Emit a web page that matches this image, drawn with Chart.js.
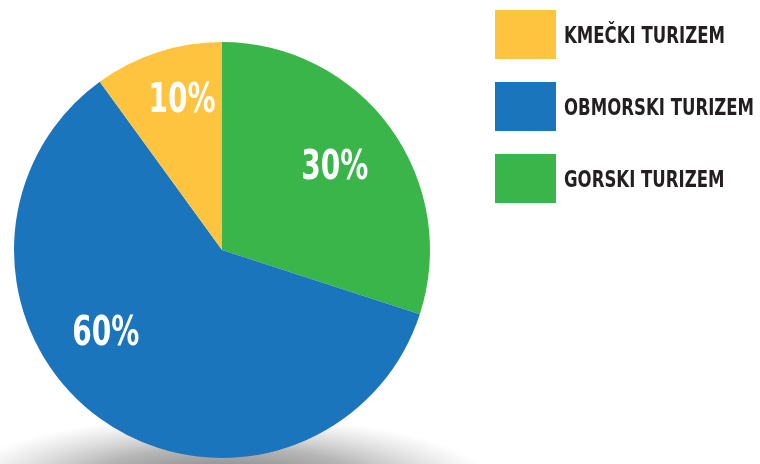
<!DOCTYPE html>
<html>
<head>
<meta charset="utf-8">
<script src="https://cdn.jsdelivr.net/npm/chart.js@4"></script>
<style>
    body { margin: 0; background: #fff; }
    .wrap { position: relative; width: 760px; height: 464px; overflow: hidden; }
    .legend { position: absolute; left: 495px; top: 10px; }
    .legend .item { display: flex; align-items: center; height: 49px; margin-bottom: 23px; }
    .legend .box { width: 61px; height: 49px; margin-right: 8px; flex: none; }
    .legend .txt { font-family: 'DejaVu Sans Condensed', sans-serif; font-weight: bold; font-size: 23px; color: #231f20; white-space: nowrap; transform: scaleX(0.8); transform-origin: left center; }
</style>
</head>
<body>
<div class="wrap">
    <canvas id="pieChart" width="760" height="464"></canvas>
    <div class="legend" id="legend"></div>
</div>
<script>
// legend order (top to bottom)
const categories = ['KMEČKI TURIZEM', 'OBMORSKI TURIZEM', 'GORSKI TURIZEM'];
const shares = [10, 60, 30];
const colors = ['#fec440', '#1b75bc', '#3ab54a'];

// the pie runs clockwise from 12 o'clock: gorski, obmorski, kmecki
const pieLabels = categories.slice().reverse();
const pieValues = shares.slice().reverse();
const pieColors = colors.slice().reverse();

const legend = document.getElementById('legend');
categories.forEach((name, i) => {
    const item = document.createElement('div');
    item.className = 'item';
    item.innerHTML = '<div class="box" style="background:' + colors[i] + '"></div><div class="txt">' + name + '</div>';
    legend.appendChild(item);
});

// soft grey shadow under the pie
const shadowPlugin = {
    id: 'shadow',
    beforeDraw(chart) {
        const ctx = chart.ctx;
        ctx.save();
        ctx.translate(225, 486);
        ctx.scale(1, 0.26);
        const g = ctx.createRadialGradient(0, 0, 0, 0, 0, 270);
        g.addColorStop(0, 'rgba(70,70,70,0.8)');
        g.addColorStop(0.55, 'rgba(110,110,110,0.5)');
        g.addColorStop(1, 'rgba(150,150,150,0)');
        ctx.fillStyle = g;
        ctx.beginPath();
        ctx.arc(0, 0, 270, 0, Math.PI * 2);
        ctx.fill();
        ctx.restore();
    }
};

// percentage text inside slices
const percentPlugin = {
    id: 'percent',
    afterDatasetsDraw(chart, args, opts) {
        const ctx = chart.ctx;
        const meta = chart.getDatasetMeta(0);
        meta.data.forEach((arc, i) => {
            const p = arc.getProps(['x', 'y', 'startAngle', 'endAngle', 'outerRadius'], true);
            const off = opts.offsets[i];
            const a = (p.startAngle + p.endAngle) / 2 + off.a * Math.PI / 180;
            const r = p.outerRadius * off.r;
            ctx.save();
            ctx.translate(p.x + Math.cos(a) * r, p.y + Math.sin(a) * r);
            ctx.scale(0.76, 1);
            ctx.fillStyle = '#fff';
            ctx.font = 'bold 41px "DejaVu Sans Condensed", sans-serif';
            ctx.textAlign = 'center';
            ctx.textBaseline = 'middle';
            ctx.fillText(pieValues[i] + '%', 0, 0);
            ctx.restore();
        });
    }
};

const pieCtx = document.getElementById('pieChart').getContext('2d');
const pieChart = new Chart(pieCtx, {
    type: 'pie',
    data: {
        labels: pieLabels,
        datasets: [
            {
                data: pieValues,
                backgroundColor: pieColors,
                borderWidth: 0,
            }
        ]
    },
    options: {
        responsive: false,
        animation: false,
        layout: {
            padding: {
                left: 14,
                right: 330,
                top: 42,
                bottom: 6
            }
        },
        plugins: {
            legend: { display: false },
            tooltip: { enabled: false },
            percent: {
                offsets: [
                    { r: 0.67, a: 0 },
                    { r: 0.69, a: 18 },
                    { r: 0.74, a: 3 }
                ]
            }
        }
    },
    plugins: [shadowPlugin, percentPlugin]
});
</script>
</body>
</html>
